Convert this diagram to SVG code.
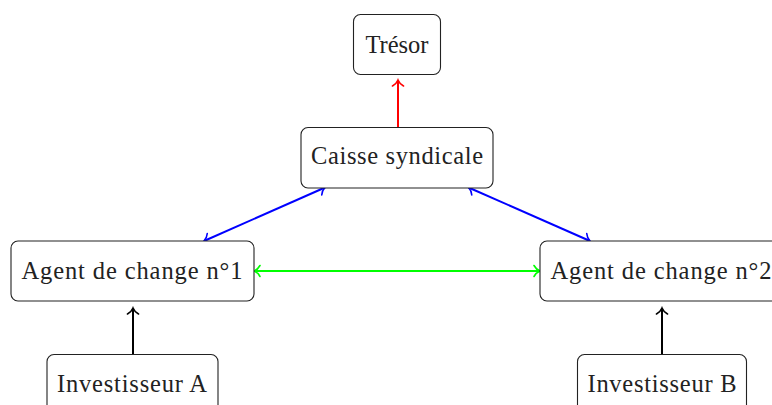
<svg xmlns="http://www.w3.org/2000/svg" width="772" height="405" viewBox="0 0 772 405">
<style>
.box{fill:#fff;stroke:#222;stroke-width:1.1}
.lbl{font-family:"Liberation Serif","DejaVu Serif",serif;font-size:24.5px;fill:#222;text-anchor:middle}
.e{fill:none;stroke-width:2}
</style>
<defs>
<marker id="ah" viewBox="-7 -7 9 14" markerWidth="9" markerHeight="14" markerUnits="userSpaceOnUse" refX="0" refY="0" orient="auto-start-reverse">
<path d="M-6,-5.5 C-4.5,-2.7 -1.7,-0.7 0,0 C-1.7,0.7 -4.5,2.7 -6,5.5" fill="none" stroke="context-stroke" stroke-width="1.6" stroke-linecap="round"/>
</marker>
</defs>
<g id="edges">
<line class="e" x1="398" y1="127" x2="398" y2="80" stroke="#f00" marker-end="url(#ah)"/>
<line class="e" x1="204" y1="241" x2="325" y2="187.5" stroke="#00f" marker-start="url(#ah)" marker-end="url(#ah)"/>
<line class="e" x1="468.5" y1="187.5" x2="590" y2="241" stroke="#00f" marker-start="url(#ah)" marker-end="url(#ah)"/>
<line class="e" x1="254" y1="271" x2="540" y2="271" stroke="#0f0" marker-start="url(#ah)" marker-end="url(#ah)"/>
<line class="e" x1="133" y1="354" x2="133" y2="308" stroke="#000" marker-end="url(#ah)"/>
<line class="e" x1="662" y1="354" x2="662" y2="308" stroke="#000" marker-end="url(#ah)"/>
</g>
<g id="tresor"><rect class="box" x="353.5" y="14.5" width="87" height="60" rx="7"/><text class="lbl" x="397" y="53" textLength="63">Trésor</text></g>
<g id="caisse"><rect class="box" x="301" y="127.5" width="192" height="60.5" rx="7"/><text class="lbl" x="397" y="164" textLength="172">Caisse syndicale</text></g>
<g id="agent1"><rect class="box" x="11" y="241" width="243" height="60" rx="7"/><text class="lbl" x="132" y="278.5" textLength="221">Agent de change n°1</text></g>
<g id="agent2"><rect class="box" x="540" y="241" width="243" height="60" rx="7"/><text class="lbl" x="661" y="278.5" textLength="221">Agent de change n°2</text></g>
<g id="invA"><rect class="box" x="47" y="354.5" width="171" height="60" rx="7"/><text class="lbl" x="132" y="392" textLength="150">Investisseur A</text></g>
<g id="invB"><rect class="box" x="577.5" y="354.5" width="169" height="60" rx="7"/><text class="lbl" x="662" y="392" textLength="149">Investisseur B</text></g>
</svg>
